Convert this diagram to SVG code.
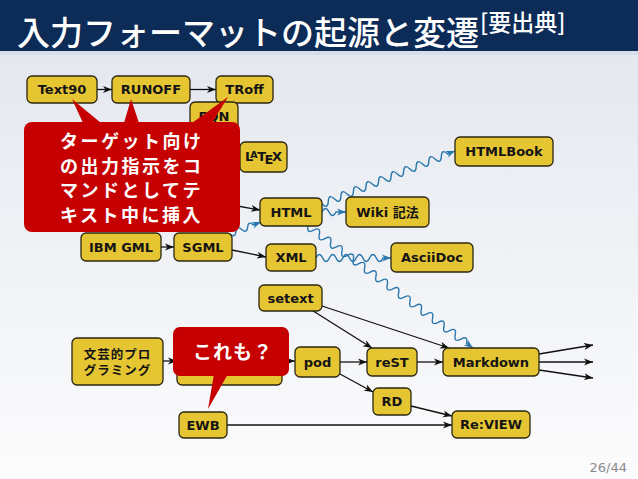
<svg xmlns="http://www.w3.org/2000/svg" width="638" height="479" viewBox="0 0 638 479">
<defs>
<linearGradient id="bg" x1="0" y1="0" x2="0" y2="1">
<stop offset="0" stop-color="#e1e6ed"/>
<stop offset="1" stop-color="#fcfcfd"/>
</linearGradient>
<marker id="ah" markerWidth="10" markerHeight="8" refX="9" refY="4" orient="auto" markerUnits="userSpaceOnUse"><path d="M0,0.5 L9,4 L0,7.5 L2.5,4 z" fill="#111"/></marker>
<marker id="ahb" markerWidth="10" markerHeight="8" refX="9" refY="4" orient="auto" markerUnits="userSpaceOnUse"><path d="M0,0.5 L9,4 L0,7.5 L2.5,4 z" fill="#2a78ae"/></marker>
<style>
.n{fill:#e6c532;stroke:#2b2612;stroke-width:1.3}
.t{font-family:"DejaVu Sans","Noto Sans CJK JP",sans-serif;font-weight:bold;font-size:13px;fill:#141414;text-anchor:middle}
.c{fill:none;stroke:#111;stroke-width:1.3;marker-end:url(#ah)}
.w{fill:none;stroke:#2a78ae;stroke-width:1.4;marker-end:url(#ahb)}
.r{fill:#c60000}
.ct{font-family:"Noto Sans CJK JP",sans-serif;font-weight:bold;font-size:18px;fill:#fff;letter-spacing:2.5px}
</style>
</defs>
<rect x="0" y="0" width="638" height="479" fill="url(#bg)"/>
<rect x="0" y="0" width="638" height="51" fill="#0c2b57"/>
<rect x="0" y="51" width="638" height="4" fill="#d6dee9"/>
<text x="17" y="45" font-family="'Noto Sans CJK JP',sans-serif" font-size="33" font-weight="500" fill="#fff">入力フォーマットの起源と変遷</text>
<text x="480" y="31" font-family="'Noto Sans CJK JP',sans-serif" font-size="23" font-weight="500" fill="#fff">[要出典]</text>
<text x="627" y="472" font-family="'DejaVu Sans',sans-serif" font-size="13" fill="#8a8a8a" text-anchor="end">26/44</text>

<g id="connectors">
<path class="c" d="M97,89.5 L112,89.5"/>
<path class="c" d="M190,89.5 L216,89.5"/>
<path class="c" d="M232,205 L260,210"/>
<path class="c" d="M161,247 L174,247"/>
<path class="c" d="M232,250 L266,257"/>
<path class="c" d="M310,309 L372,348"/>
<path class="c" d="M322,306 L449,348"/>
<path class="c" d="M163,361 L177,361"/>
<path class="c" d="M282,361 L295,361"/>
<path class="c" d="M340,362 L367,362"/>
<path class="c" d="M417,362 L443,362"/>
<path class="c" d="M340,374 L373,392"/>
<path class="c" d="M411,406 L452,416"/>
<path class="c" d="M227,425 L452,425"/>
<path class="c" d="M539,354 L593,345"/>
<path class="c" d="M539,362 L593,362"/>
<path class="c" d="M539,370 L593,378"/>
<path class="w" d="M322,204 q5.92,5.72 6.28,-2.50 t6.28,-2.50 t6.28,-2.50 t6.28,-2.50 t6.28,-2.50 t6.28,-2.50 t6.28,-2.50 t6.28,-2.50 t6.28,-2.50 t6.28,-2.50 t6.28,-2.50 t6.28,-2.50 t6.28,-2.50 t6.28,-2.50 t6.28,-2.50 t6.28,-2.50 t6.28,-2.50 t6.28,-2.50 t6.28,-2.50 t6.28,-2.50 l7.43,-2.96"/>
<path class="w" d="M322,212 q3.5,-7 7,0 t7,0 l10,0"/>
<path class="w" d="M308,226 q-1.63,8.12 5.663,4.187 t5.663,4.187 t5.663,4.187 t5.663,4.187 t5.663,4.187 t5.663,4.187 t5.663,4.187 t5.663,4.187 t5.663,4.187 t5.663,4.187 t5.663,4.187 t5.663,4.187 t5.663,4.187 t5.663,4.187 t5.663,4.187 t5.663,4.187 t5.663,4.187 t5.663,4.187 t5.663,4.187 t5.663,4.187 t5.663,4.187 t5.663,4.187 t5.663,4.187 t5.663,4.187 t5.663,4.187 t5.663,4.187 t5.663,4.187 t5.663,4.187 l6.43,4.76"/>
<path class="w" d="M316,258 q3.35,-7 6.7,0 t6.7,0 t6.7,0 t6.7,0 t6.7,0 t6.7,0 t6.7,0 t6.7,0 t6.7,0 t6.7,0 l8,0"/>
<path class="w" d="M230,234 q5.11,4.46 5.88,-2.28 t5.88,-2.28 t5.88,-2.28 t5.88,-2.28 l7.47,-2.89"/>
</g>

<g id="text90"><rect class="n" x="27" y="76" width="70" height="27" rx="5"/><text class="t" x="62" y="94">Text90</text></g>
<g id="runoff"><rect class="n" x="112" y="76" width="78" height="27" rx="5"/><text class="t" x="151" y="94">RUNOFF</text></g>
<g id="troff"><rect class="n" x="216" y="76" width="57" height="27" rx="5"/><text class="t" x="244.5" y="94">TRoff</text></g>
<g id="eqn"><rect class="n" x="190" y="102" width="48" height="28" rx="5"/><text class="t" x="214" y="121">EQN</text></g>
<g id="latex"><rect class="n" x="240" y="142" width="47" height="30" rx="5"/><text class="t" x="245" y="161" style="text-anchor:start">L<tspan font-size="9.5" dx="-3" dy="-3">A</tspan><tspan dx="-0.5" dy="3">T</tspan><tspan dx="-1.5" dy="3">E</tspan><tspan dx="-1.5" dy="-3">X</tspan></text></g>
<g id="html"><rect class="n" x="260" y="198" width="62" height="28" rx="5"/><text class="t" x="291" y="216.5">HTML</text></g>
<g id="wiki"><rect class="n" x="346" y="197" width="83" height="30" rx="5"/><text class="t" x="387.5" y="216.5">Wiki 記法</text></g>
<g id="htmlbook"><rect class="n" x="455" y="137" width="98" height="29" rx="5"/><text class="t" x="504" y="156">HTMLBook</text></g>
<g id="xml"><rect class="n" x="266" y="244" width="50" height="27" rx="5"/><text class="t" x="291" y="262">XML</text></g>
<g id="asciidoc"><rect class="n" x="391" y="243" width="82" height="29" rx="5"/><text class="t" x="432" y="262">AsciiDoc</text></g>
<g id="ibmgml"><rect class="n" x="81" y="233" width="80" height="28" rx="5"/><text class="t" x="121" y="251.5">IBM GML</text></g>
<g id="sgml"><rect class="n" x="174" y="233" width="58" height="28" rx="5"/><text class="t" x="203" y="251.5">SGML</text></g>
<g id="setext"><rect class="n" x="259" y="285" width="63" height="26" rx="5"/><text class="t" x="290.5" y="302.5">setext</text></g>
<g id="litprog"><rect class="n" x="72" y="338" width="91" height="47" rx="5"/><text class="t" x="117.5" y="359" style="font-size:12.5px;letter-spacing:1px">文芸的プロ</text><text class="t" x="117.5" y="375" style="font-size:12.5px;letter-spacing:1px">グラミング</text></g>
<g id="hidden"><rect class="n" x="177" y="338" width="105" height="47" rx="5"/></g>
<g id="pod"><rect class="n" x="295" y="347" width="45" height="30" rx="5"/><text class="t" x="317.5" y="366.5">pod</text></g>
<g id="rest"><rect class="n" x="367" y="348" width="50" height="28" rx="5"/><text class="t" x="392" y="366.5">reST</text></g>
<g id="markdown"><rect class="n" x="443" y="348" width="96" height="28" rx="5"/><text class="t" x="491" y="366.5">Markdown</text></g>
<g id="rd"><rect class="n" x="373" y="388" width="38" height="27" rx="5"/><text class="t" x="392" y="406">RD</text></g>
<g id="review"><rect class="n" x="452" y="411" width="78" height="27" rx="5"/><text class="t" x="491" y="429">Re:VIEW</text></g>
<g id="ewb"><rect class="n" x="179" y="412" width="48" height="26" rx="5"/><text class="t" x="203" y="429.5">EWB</text></g>

<g id="callout1">
<path class="r" d="M72,99 L101,123 L83,123 Z"/>
<path class="r" d="M131,99 L139,123 L124,123 Z"/>
<path class="r" d="M228,97 L212,123 L192,123 Z"/>
<rect class="r" x="24" y="122" width="216" height="110" rx="8"/>
<text class="ct" x="60" y="148">ターゲット向け</text>
<text class="ct" x="60" y="173">の出力指示をコ</text>
<text class="ct" x="60" y="197">マンドとしてテ</text>
<text class="ct" x="60" y="222">キスト中に挿入</text>
</g>
<g id="callout2">
<path class="r" d="M208,409 L214,374 L228,374 Z"/>
<rect class="r" x="173" y="327" width="116" height="49" rx="7"/>
<text class="ct" x="193" y="359" style="font-size:19px;letter-spacing:1px">これも？</text>
</g>
</svg>
